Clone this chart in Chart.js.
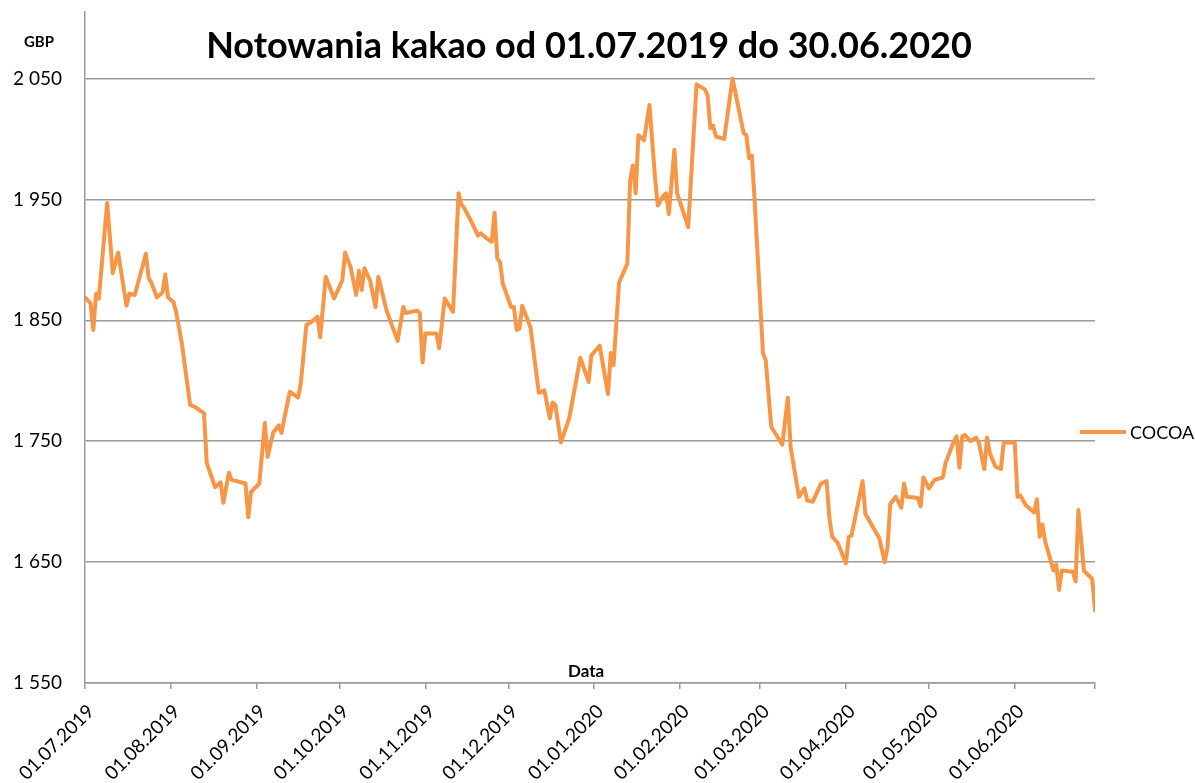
<!DOCTYPE html>
<html>
<head>
<meta charset="utf-8">
<script src="https://cdn.jsdelivr.net/npm/chart.js@4.4.1/dist/chart.umd.min.js"></script>
<style>
html,body{margin:0;padding:0;background:#fff;}
canvas{display:block;}
</style>
</head>
<body>
<canvas id="c" width="1195" height="783"></canvas>
<script>
// ---- data ----
const chartTitle = 'Notowania kakao od 01.07.2019 do 30.06.2020';
const yAxisTitle = 'GBP';
const xAxisTitle = 'Data';
const seriesName = 'COCOA';
const startDate = '2019-07-01';

// days since 01.07.2019
const dayOffsets = [0,2,3,4,5,8,9,10,12,13,15,16,18,22,23,24,26,28,29,30,32,33,35,38,40,43,44,47,49,50,52,53,58,59,60,63,65,66,68,70,71,74,77,78,80,82,84,85,87,90,93,94,96,98,99,100,101,103,105,106,109,113,115,116,120,121,122,123,127,128,130,133,135,136,137,140,142,143,145,147,148,149,150,151,154,155,156,157,158,161,164,166,168,169,170,172,175,179,182,183,186,189,190,191,193,196,197,198,199,200,202,204,206,207,209,210,211,213,214,218,221,224,225,226,227,228,231,234,238,239,240,241,242,245,246,248,252,254,255,258,260,261,263,266,268,269,270,272,275,276,277,281,282,287,289,290,291,293,295,296,297,301,302,303,305,307,310,311,314,315,316,317,318,320,322,323,325,326,327,329,331,332,336,337,338,340,343,344,345,346,347,350,351,352,353,357,358,359,361,364,365];
const cocoaValues = [1869,1864,1842,1872,1868,1947,1919,1889,1906,1891,1862,1872,1871,1905,1885,1881,1869,1873,1888,1869,1865,1856,1831,1780,1778,1773,1732,1712,1716,1699,1724,1718,1715,1687,1708,1715,1765,1737,1757,1763,1757,1791,1786,1798,1846,1849,1853,1836,1886,1868,1883,1906,1894,1871,1891,1875,1893,1883,1861,1886,1858,1833,1861,1856,1858,1856,1815,1839,1839,1827,1868,1857,1955,1946,1943,1930,1920,1922,1918,1915,1939,1901,1898,1880,1861,1861,1842,1843,1862,1844,1790,1792,1769,1782,1780,1749,1769,1819,1799,1821,1829,1789,1823,1813,1881,1897,1966,1978,1955,2003,1999,2028,1968,1945,1953,1955,1938,1991,1955,1927,2045,2041,2036,2009,2011,2002,2000,2050,2005,2003,1984,1986,1949,1823,1817,1762,1747,1786,1745,1704,1711,1701,1700,1715,1717,1687,1671,1666,1649,1671,1672,1717,1690,1670,1650,1662,1698,1704,1695,1715,1704,1703,1696,1720,1711,1718,1720,1732,1750,1754,1728,1754,1755,1750,1753,1749,1727,1753,1740,1729,1727,1749,1749,1704,1705,1697,1691,1702,1671,1681,1667,1643,1648,1627,1643,1642,1634,1693,1643,1636,1610];

const xTickDates = ['2019-07-01','2019-08-01','2019-09-01','2019-10-01','2019-11-01','2019-12-01','2020-01-01','2020-02-01','2020-03-01','2020-04-01','2020-05-01','2020-06-01','2020-06-30'];
const xTickLabels = ['01.07.2019','01.08.2019','01.09.2019','01.10.2019','01.11.2019','01.12.2019','01.01.2020','01.02.2020','01.03.2020','01.04.2020','01.05.2020','01.06.2020',''];
const yTickValues = [1550,1650,1750,1850,1950,2050];
const yTickLabels = ['1 550','1 650','1 750','1 850','1 950','2 050'];

// ---- helpers ----
const dayMs = 86400000;
const t0 = Date.parse(startDate + 'T00:00:00Z');
const xTickDays = xTickDates.map(d => Math.round((Date.parse(d + 'T00:00:00Z') - t0) / dayMs));
const points = dayOffsets.map((d, i) => ({x: d, y: cocoaValues[i]}));

const LINE_COLOR = '#F79646';
const GRID_COLOR = '#9a9a9a';
const FONT = 'Lato';

const textPlugin = {
  id: 'texts',
  afterDraw(chart) {
    const ctx = chart.ctx;
    ctx.save();
    ctx.fillStyle = '#000';
    ctx.textBaseline = 'middle';
    ctx.textAlign = 'center';
    ctx.font = 'bold 36px ' + FONT;
    ctx.fillText(chartTitle, 589, 46);
    ctx.font = 'bold 15px ' + FONT;
    ctx.fillText(yAxisTitle, 39, 42);
    ctx.font = 'bold 17px ' + FONT;
    ctx.fillText(xAxisTitle, 586, 672);
    // legend
    ctx.strokeStyle = LINE_COLOR;
    ctx.lineWidth = 4;
    ctx.beginPath();
    ctx.moveTo(1080, 432);
    ctx.lineTo(1126, 432);
    ctx.stroke();
    ctx.textAlign = 'left';
    ctx.font = '18px ' + FONT;
    ctx.fillText(seriesName, 1130, 433);
    ctx.restore();
  }
};

function build() {
  new Chart(document.getElementById('c'), {
    type: 'line',
    data: {
      datasets: [{
        label: seriesName,
        data: points,
        borderColor: LINE_COLOR,
        backgroundColor: LINE_COLOR,
        borderWidth: 4,
        pointRadius: 0,
        tension: 0,
        borderJoinStyle: 'round',
        borderCapStyle: 'round',
        fill: false
      }]
    },
    options: {
      responsive: false,
      animation: false,
      devicePixelRatio: 1,
      layout: {padding: {left: 0, right: 100, top: 12, bottom: 0}},
      plugins: {legend: {display: false}, title: {display: false}, tooltip: {enabled: false}},
      scales: {
        x: {
          type: 'linear',
          min: 0,
          max: xTickDays[xTickDays.length - 1],
          afterBuildTicks: s => { s.ticks = xTickDays.map(v => ({value: v})); },
          afterFit: s => { s.height = 100; s.paddingLeft = 0; s.paddingRight = 0; },
          grid: {drawOnChartArea: false, drawTicks: true, tickLength: 6, color: GRID_COLOR, lineWidth: 1.5},
          border: {display: true, color: GRID_COLOR, width: 1.5},
          ticks: {
            autoSkip: false,
            minRotation: 45,
            maxRotation: 45,
            padding: 11,
            labelOffset: 6,
            color: '#000',
            font: {family: FONT, size: 19},
            callback: (v, i) => xTickLabels[i]
          }
        },
        y: {
          type: 'linear',
          min: 1550,
          max: 2105,
          afterBuildTicks: s => { s.ticks = yTickValues.map(v => ({value: v})); },
          afterFit: s => { s.width = 85; s.paddingTop = 0; s.paddingBottom = 0; },
          grid: {drawTicks: false, color: GRID_COLOR, lineWidth: 1.5},
          border: {display: true, color: GRID_COLOR, width: 1.5},
          ticks: {
            padding: 23,
            color: '#000',
            font: {family: FONT, size: 19},
            callback: (v, i) => yTickLabels[i]
          }
        }
      }
    },
    plugins: [textPlugin]
  });
}

Promise.all([
  document.fonts.load('19px Lato'),
  document.fonts.load('bold 36px Lato')
]).then(build, build);
</script>
</body>
</html>
